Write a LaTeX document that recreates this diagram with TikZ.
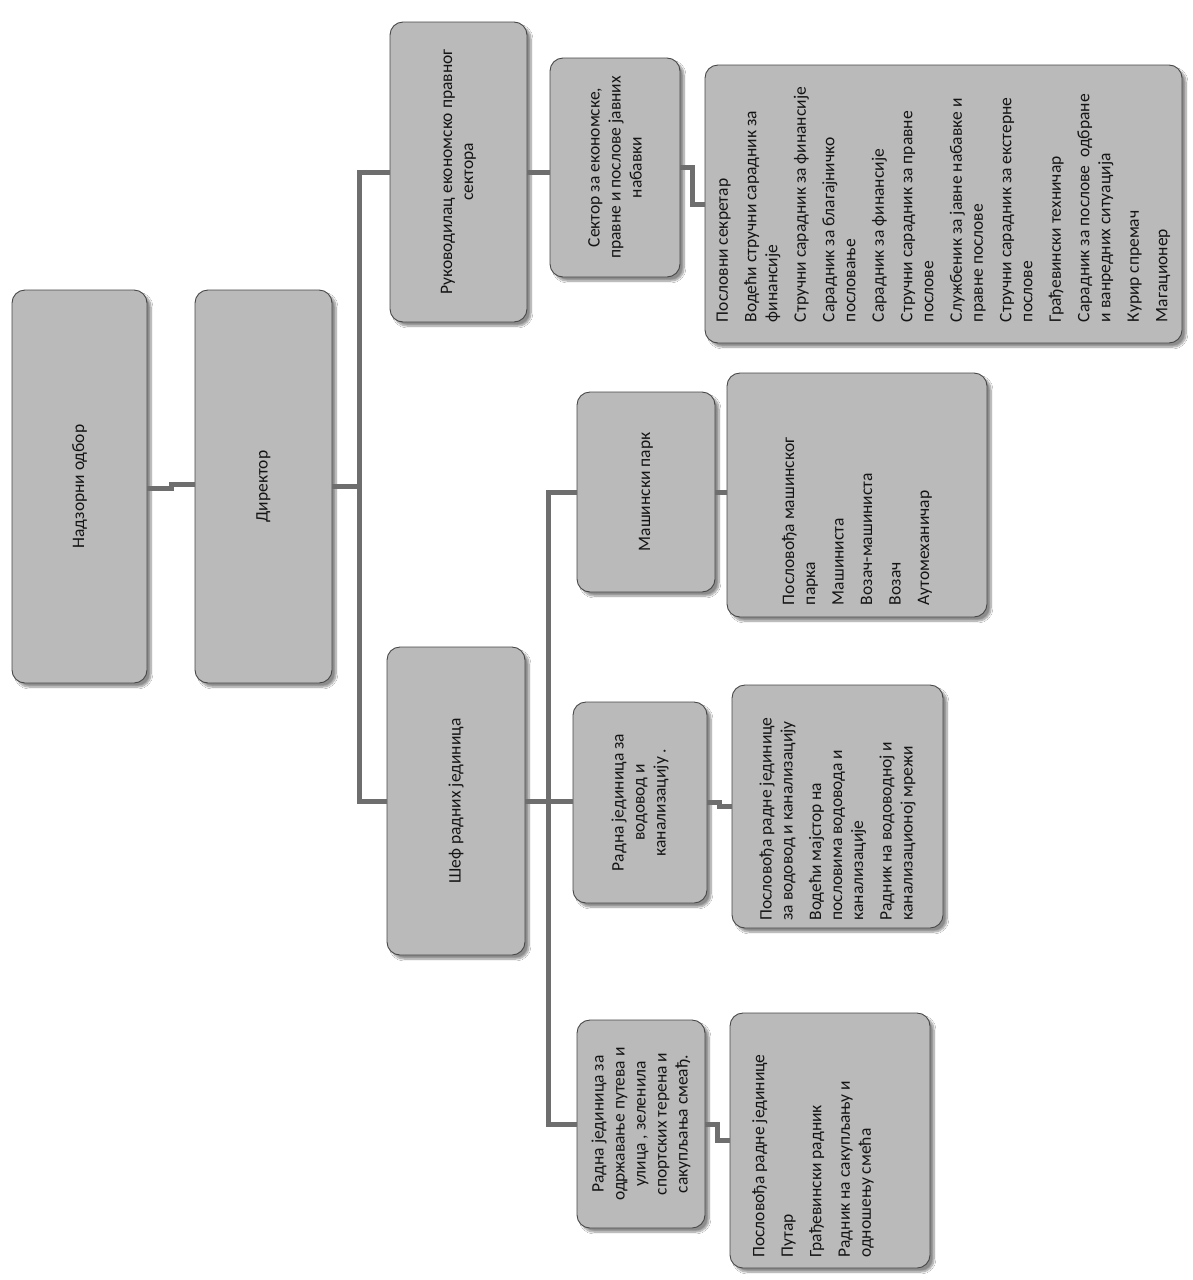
\documentclass[tikz,border=0pt]{standalone}
\usepackage{fontspec}
\setmainfont{Carlito}
\usepackage{graphicx}
\usetikzlibrary{shadows.blur,calc}
\tikzset{
  box/.style={draw=black!72, line width=0.9pt, rounded corners=13pt, fill=black!27,
    blur shadow={shadow xshift=4pt, shadow yshift=-4pt, shadow blur steps=8, shadow opacity=45},
    inner sep=0pt, text=black!92, font=\fontsize{17.5}{21}\selectfont},
  conn/.style={draw=black!57, line width=5pt},
}
\newcommand{\vt}[2]{\rotatebox{90}{\parbox{#1}{\centering #2}}}
\newcommand{\vl}[2]{\rotatebox{90}{\parbox{#1}{\raggedright\setlength{\parindent}{0pt}\setlength{\parskip}{7.5pt}#2}}}
\newcommand{\lone}[1]{\mbox{#1}\par}
\newcommand{\ltwo}[2]{\mbox{#1}\\\mbox{#2}\par}
\newcommand{\lthree}[3]{\mbox{#1}\\\mbox{#2}\\\mbox{#3}\par}
\begin{document}
\begin{tikzpicture}[x=1pt,y=-1pt]
\useasboundingbox[fill=white] (0,0) rectangle (1192,1280);

% level nodes
\node[box, minimum width=135pt, minimum height=393pt] (nad) at (79.5,486.5) {\vt{370pt}{Надзорни одбор}};
\node[box, minimum width=137pt, minimum height=393pt] (dir) at (263.5,486.5) {\vt{370pt}{Директор}};
\node[box, minimum width=137pt, minimum height=300pt] (ruk) at (458.5,172) {\vt{285pt}{Руководилац економско правног\\сектора}};
\node[box, minimum width=138pt, minimum height=308pt] (sef) at (456,801) {\vt{290pt}{Шеф радних јединица}};
\node[box, minimum width=130pt, minimum height=219pt] (sek) at (615,167.5) {\vt{210pt}{Сектор за економске,\\правне и послове јавних\\набавки}};
\node[box, minimum width=138pt, minimum height=200pt] (mas) at (646,492) {\vt{190pt}{Машински парк}};
\node[box, minimum width=134pt, minimum height=201pt] (vod) at (640,802.5) {\vt{190pt}{Радна јединица за\\водовод и\\канализацију .}};
\node[box, minimum width=128pt, minimum height=208pt] (rjp) at (641,1124) {\vt{200pt}{Радна јединица за\\одржавање путева и\\улица , зеленила\\спортских терена и\\сакупљања смеађ.}};

% lists
\node[box, minimum width=477pt, minimum height=278pt] (lst1) at (943.5,204) {\vl{236pt}{%
\lone{Пословни секретар}
\ltwo{Водећи стручни сарадник за}{финансије}
\lone{Стручни сарадник за финансије}
\ltwo{Сарадник за благајничко}{пословање}
\lone{Сарадник за финансије}
\ltwo{Стручни сарадник за правне}{послове}
\ltwo{Службеник за јавне набавке и}{правне послове}
\ltwo{Стручни сарадник за екстерне}{послове}
\lone{Грађевински техничар}
\ltwo{Сарадник за послове\ \ одбране}{и ванредних ситуација}
\lone{Курир спремач}
\lone{Магационер}}};
\node[box, minimum width=260pt, minimum height=244pt] (lst2) at (857,495) {\vl{220pt}{%
\ltwo{Пословођа машинског}{парка}
\lone{Машиниста}
\lone{Возач-машиниста}
\lone{Возач}
\lone{Аутомеханичар}}};
\node[box, minimum width=211pt, minimum height=243pt] (lst3) at (837.5,806.5) {\vl{228pt}{%
\ltwo{Пословођа радне јединице}{за водовод и канализацију}
\lthree{Водећи мајстор на}{пословима водовода и}{канализације}
\ltwo{Радник на водоводној и}{канализационој мрежи}}};
\node[box, minimum width=200pt, minimum height=255pt] (lst4) at (830,1140.5) {\vl{234pt}{%
\lone{Пословођа радне јединице}
\lone{Путар}
\lone{Грађевински радник}
\ltwo{Радник на сакупљању и}{одношењу смећа}\vspace*{34pt}}};

% connectors
\coordinate (sp1) at ($(dir.east)+(27,0)$);
\coordinate (sp2) at ($(sef.east)+(23,0)$);
\draw[conn] ([yshift=-2pt]nad.east) -| ($(nad.east)!0.5!(dir.west)$) |- ([yshift=2pt]dir.west);
\draw[conn] (dir.east) -- (sp1);
\draw[conn] (ruk.west) -| (sp1) |- (sef.west);
\draw[conn] (ruk.east) -- (sek.west |- ruk.east);
\draw[conn] (sek.east) -| ($(sek.east)!0.5!(lst1.west)$) |- (lst1.west);
\draw[conn] (sef.east) -- (sef.east -| vod.west);
\draw[conn] (mas.west) -| (sp2) |- (rjp.west);
\draw[conn] (mas.east) -- (lst2.west |- mas.east);
\draw[conn] (vod.east) -| ($(vod.east)!0.5!(lst3.west)$) |- (lst3.west);
\draw[conn] (rjp.east) -| ($(rjp.east)!0.5!(lst4.west)$) |- (lst4.west);
\end{tikzpicture}
\end{document}
